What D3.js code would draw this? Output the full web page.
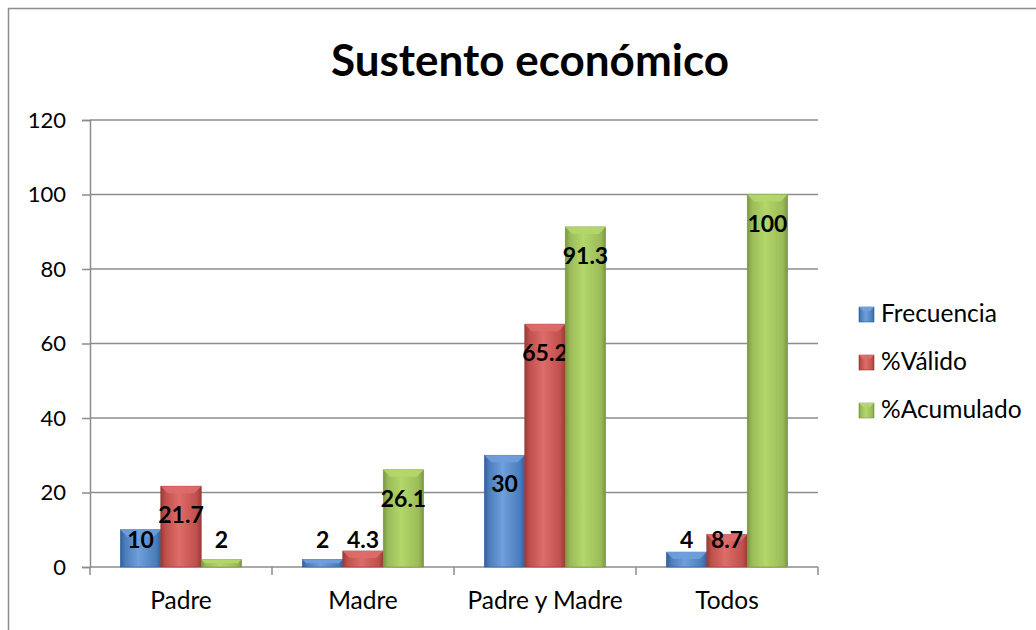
<!DOCTYPE html>
<html>
<head>
<meta charset="utf-8">
<script src="https://cdn.jsdelivr.net/npm/d3@7"></script>
<style>
  body { margin: 0; background: #fff; }
  text { font-family: Lato, "Liberation Sans", sans-serif; }
</style>
</head>
<body>
<svg width="1036" height="630"></svg>
<script>
const categories = ["Padre", "Madre", "Padre y Madre", "Todos"];
const seriesNames = ["Frecuencia", "%Válido", "%Acumulado"];
const frecuencia = [10, 2, 30, 4];
const valido = [21.7, 4.3, 65.2, 8.7];
const acumulado = [2, 26.1, 91.3, 100];
const yTicks = [0, 20, 40, 60, 80, 100, 120];

const colors = [
  { base: "#4a7ebb", light: "#6f9fdc", dark: "#33609a" },
  { base: "#c0504d", light: "#de6c69", dark: "#983a38" },
  { base: "#9bbb59", light: "#b3d76a", dark: "#7a9641" }
];

const width = 1036, height = 630;
const margin = { top: 120, right: 218, bottom: 63, left: 90 };

const svg = d3.select("svg");
const defs = svg.append("defs");

colors.forEach((c, i) => {
  const g = defs.append("linearGradient").attr("id", "grad" + i)
    .attr("x1", 0).attr("x2", 1).attr("y1", 0).attr("y2", 0);
  g.append("stop").attr("offset", "0%").attr("stop-color", c.dark);
  g.append("stop").attr("offset", "12%").attr("stop-color", c.base);
  g.append("stop").attr("offset", "45%").attr("stop-color", c.light);
  g.append("stop").attr("offset", "88%").attr("stop-color", c.base);
  g.append("stop").attr("offset", "100%").attr("stop-color", c.dark);
});

// chart frame
svg.append("rect").attr("x", 8.5).attr("y", 8.5)
  .attr("width", 1100).attr("height", 700)
  .attr("fill", "none").attr("stroke", "#8c8c8c").attr("stroke-width", 1.5);

svg.append("text").attr("x", 530).attr("y", 76)
  .attr("text-anchor", "middle")
  .attr("font-size", 44).attr("font-weight", "bold")
  .attr("fill", "#000")
  .text("Sustento económico");

const x0 = d3.scaleBand().domain(categories)
  .range([margin.left, width - margin.right])
  .paddingInner(1 / 3).paddingOuter(1 / 6);
const x1 = d3.scaleBand().domain(seriesNames).range([0, x0.bandwidth()]);
const y = d3.scaleLinear().domain([0, 120]).range([height - margin.bottom, margin.top]);

// gridlines
svg.append("g")
  .selectAll("line").data(yTicks.filter(d => d > 0)).join("line")
  .attr("x1", margin.left).attr("x2", width - margin.right)
  .attr("y1", d => y(d)).attr("y2", d => y(d))
  .attr("stroke", "#8c8c8c").attr("stroke-width", 1.3);

// y axis
const yAxis = d3.axisLeft(y).tickValues(yTicks).tickSize(8).tickPadding(16);
const gy = svg.append("g").attr("transform", `translate(${margin.left},0)`).call(yAxis);
gy.select(".domain").attr("stroke", "#8c8c8c").attr("stroke-width", 1.5);
gy.selectAll(".tick line").attr("stroke", "#8c8c8c").attr("stroke-width", 1.5);
gy.selectAll(".tick text").attr("font-size", 22).attr("fill", "#000")
  .attr("font-family", "Lato, sans-serif");

// x axis
const gx = svg.append("g").attr("transform", `translate(0,${y(0)})`);
gx.append("line").attr("x1", margin.left).attr("x2", width - margin.right)
  .attr("stroke", "#8c8c8c").attr("stroke-width", 1.5);
const bounds = categories.map(c => x0(c) - x0.step() * x0.paddingInner() / 2)
  .concat([width - margin.right]);
gx.selectAll("line.tk").data(bounds).join("line").attr("class", "tk")
  .attr("x1", d => d).attr("x2", d => d).attr("y1", 0).attr("y2", 8)
  .attr("stroke", "#8c8c8c").attr("stroke-width", 1.5);
gx.selectAll("text").data(categories).join("text")
  .attr("x", d => x0(d) + x0.bandwidth() / 2).attr("y", 42)
  .attr("text-anchor", "middle").attr("font-size", 24.5).attr("fill", "#000")
  .text(d => d);

const allSeries = [frecuencia, valido, acumulado];
const rows = [];
categories.forEach((c, ci) => {
  seriesNames.forEach((s, si) => {
    rows.push({ cat: c, series: s, si: si, value: allSeries[si][ci] });
  });
});

const bars = svg.append("g").selectAll("g").data(rows).join("g")
  .attr("transform", d => `translate(${x0(d.cat) + x1(d.series)},0)`);

const bw = x1.bandwidth();
bars.append("rect")
  .attr("x", 0).attr("y", d => y(d.value))
  .attr("width", bw).attr("height", d => y(0) - y(d.value))
  .attr("fill", d => `url(#grad${d.si})`)
  .attr("stroke", d => colors[d.si].dark).attr("stroke-width", 0.6);

// top bevel
bars.append("path")
  .attr("d", d => {
    const t = y(d.value), h = Math.min(7, (y(0) - t) / 2);
    return `M0,${t}L${bw},${t}L${bw - h},${t + h}L${h},${t + h}Z`;
  })
  .attr("fill", d => colors[d.si].light).attr("opacity", 0.9);

// value labels
bars.append("text")
  .attr("x", bw / 2)
  .attr("y", d => Math.min(y(d.value) + 29, y(0) - 27) + 8)
  .attr("text-anchor", "middle")
  .attr("font-size", 23).attr("font-weight", "bold").attr("fill", "#000")
  .text(d => d.value);

// legend
const legend = svg.append("g").selectAll("g").data(seriesNames).join("g")
  .attr("transform", (d, i) => `translate(859,${307 + i * 48})`);
legend.append("rect").attr("width", 15).attr("height", 15)
  .attr("fill", (d, i) => `url(#grad${i})`)
  .attr("stroke", (d, i) => colors[i].dark).attr("stroke-width", 0.6);
legend.append("path").attr("d", "M0,0L15,0L11,4L4,4Z")
  .attr("fill", (d, i) => colors[i].light);
legend.append("text").attr("x", 22).attr("y", 15)
  .attr("font-size", 24.5).attr("fill", "#000").text(d => d);
</script>
</body>
</html>
